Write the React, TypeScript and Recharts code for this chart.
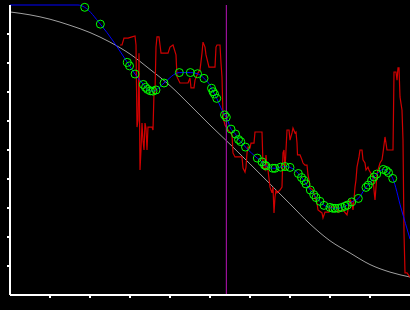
import { ComposedChart, Line, Scatter, XAxis, YAxis, ReferenceLine } from "recharts";

// smooth reference curve (grey)
const refX = [0, 5, 10, 15, 20, 25, 30, 35, 40, 45, 50, 55, 60, 65, 70, 75, 80, 85, 90, 95, 100];
const refY = [9.76, 9.66, 9.51, 9.3, 9.05, 8.72, 8.31, 7.78, 7.22, 6.55, 5.86, 5.2, 4.52, 3.83, 3.14, 2.45, 1.87, 1.45, 1.05, 0.79, 0.62];

// raw noisy signal (red), [x, y]
const raw: [number, number][] = [
  [27.5, 8.62], [28, 8.62], [28.5, 8.86], [29.5, 8.86], [30.5, 8.9], [31.25, 8.93], [31.5, 8.62],
  [31.75, 5.79], [32, 6.03], [32.25, 8.34], [32.5, 4.31], [32.75, 5.0], [33, 5.93], [33.25, 5.34],
  [33.5, 5.0], [33.75, 5.93], [34, 5.76], [34.25, 5.0], [34.5, 5.79], [35.5, 5.79], [35.75, 5.69],
  [36, 6.97], [36.25, 7.0], [36.5, 8.55], [36.75, 8.9], [37.25, 8.9], [37.5, 8.62], [37.75, 8.34],
  [39.5, 8.34], [40, 8.55], [40.75, 8.62], [41.5, 8.28], [41.75, 7.52], [42.5, 7.31], [44.5, 7.31],
  [45, 7.48], [45.25, 7.14], [46, 7.14], [46.25, 7.41], [47, 7.66], [47.5, 7.76], [48, 8.34],
  [48.25, 8.72], [48.75, 8.55], [49, 8.28], [49.75, 7.86], [51.25, 7.86], [51.5, 8.55], [51.75, 8.62],
  [52.5, 8.62], [52.75, 8.0], [53, 7.52], [53.25, 6.14], [53.75, 5.86], [54.5, 5.69], [55, 5.62],
  [55.5, 5.52], [55.75, 4.9], [56.25, 4.76], [58, 4.76], [58.25, 4.38], [58.75, 4.24], [59, 4.41],
  [59.25, 4.9], [59.5, 5.1], [60, 5.07], [60.25, 5.24], [61, 5.24], [61.25, 5.62], [63, 5.62],
  [63.125, 5.07], [63.25, 4.41], [63.75, 4.31], [64, 4.83], [64.25, 4.41], [64.5, 4.31], [65, 3.72],
  [65.5, 3.52], [65.75, 3.72], [66, 2.83], [66.25, 3.38], [66.5, 3.62], [66.75, 3.52], [67.5, 3.62],
  [68, 3.72], [68.25, 4.9], [68.5, 5.0], [68.75, 4.31], [69.25, 5.69], [69.75, 5.69], [70, 5.34],
  [70.5, 5.59], [70.75, 5.76], [71.25, 5.59], [71.5, 5.62], [71.75, 5.24], [71.875, 4.83], [72.5, 4.83],
  [73, 4.66], [73.25, 4.55], [73.75, 4.48], [74.25, 4.48], [74.5, 4.14], [74.75, 3.97], [75, 3.69],
  [75.75, 3.62], [76.25, 3.38], [76.75, 3.17], [77, 2.93], [78, 2.83], [78.25, 2.66], [78.75, 2.86],
  [79.75, 2.86], [80, 3.03], [81.75, 3.03], [82, 2.86], [83.25, 2.93], [84.25, 2.76], [85, 3.28],
  [85.5, 3.17], [85.75, 2.93], [86, 3.28], [86.25, 3.72], [86.5, 3.97], [86.75, 4.41], [87.25, 4.76],
  [87.5, 5.0], [88, 5.0], [88.25, 4.66], [88.75, 4.55], [89, 4.31], [89.5, 4.41], [89.75, 4.31],
  [90.75, 4.07], [91, 3.62], [91.25, 3.28], [91.5, 3.72], [91.75, 4.14], [92, 4.31], [92.5, 4.55],
  [93, 4.66], [93.25, 4.9], [93.75, 5.45], [94, 5.24], [94.25, 5.0], [95.75, 5.0], [95.875, 6.28],
  [96, 7.69], [96.5, 7.69], [96.75, 7.41], [97, 7.83], [97.25, 7.83], [97.5, 6.83], [98, 6.38],
  [98.25, 5.34], [98.375, 3.72], [98.5, 2.14], [98.75, 0.76], [99.25, 0.76], [100, 0.62],
];

// fitted samples (green circles), [x, y]
const samples: [number, number][] = [
  [18.68, 9.92], [22.58, 9.34], [29.33, 8.02], [29.88, 7.9], [31.25, 7.62], [33.33, 7.26],
  [33.88, 7.16], [34.38, 7.09], [35.08, 7.04], [35.75, 7.03], [36.5, 7.07], [38.5, 7.31],
  [42.33, 7.67], [45.08, 7.67], [46.88, 7.63], [48.5, 7.47], [50.38, 7.13], [50.75, 7.01],
  [51.13, 6.93], [51.68, 6.78], [53.63, 6.21], [54.08, 6.13], [55.25, 5.72], [56.38, 5.55],
  [57.13, 5.36], [57.68, 5.29], [58.88, 5.1], [61.83, 4.72], [63, 4.59], [63.63, 4.48],
  [64, 4.45], [65.68, 4.37], [66.25, 4.37], [67.68, 4.41], [68.75, 4.43], [70, 4.4],
  [72.08, 4.19], [72.88, 4.05], [73.5, 3.95], [74, 3.83], [75.08, 3.62], [75.93, 3.46],
  [76.5, 3.36], [77.5, 3.23], [78.5, 3.09], [80, 3.02], [80.68, 2.99], [81.25, 2.99],
  [82.08, 2.99], [82.93, 3.02], [83.75, 3.06], [84.33, 3.1], [85.43, 3.21], [87.08, 3.33],
  [89, 3.71], [89.58, 3.79], [90.38, 3.95], [91, 4.07], [91.68, 4.17], [93.33, 4.33],
  [94.08, 4.29], [94.63, 4.22], [95.68, 4.02],
];

// fit curve ends (blue) outside the sampled range
const fitHead: [number, number][] = [[0, 10], [17, 10]];
const fitTail: [number, number][] = [[97.75, 3.0], [100, 1.93]];

const marker = 54.1;
const xTicks = [10, 20, 30, 40, 50, 60, 70, 80, 90];
const yTicks = [1, 2, 3, 4, 5, 6, 7, 8, 9];

const toPts = (list: [number, number][]) => list.map(([x, y]) => ({ x, y }));
const refData = refX.map((x, i) => ({ x, y: refY[i] }));
const rawData = toPts(raw);
const sampleData = toPts(samples);
const fitData = toPts([...fitHead, ...samples, ...fitTail]);

const Ring = (props: any) => {
  const { cx, cy } = props;
  return <circle cx={cx} cy={cy} r={4} fill="none" stroke="#00ff00" strokeWidth={1} />;
};

export default function App() {
  return (
    <div
      style={{
        position: "fixed",
        top: 0,
        left: 0,
        width: 410,
        height: 310,
        background: "#000",
      }}
    >
      <ComposedChart
        width={410}
        height={310}
        margin={{ top: 5, right: 0, bottom: 5, left: 0 }}
      >
        <XAxis
          type="number"
          dataKey="x"
          domain={[0, 100]}
          ticks={xTicks}
          height={10}
          stroke="#fff"
          strokeWidth={2}
          tickSize={3}
          tick={() => <g />}
          allowDataOverflow
        />
        <YAxis
          type="number"
          dataKey="y"
          domain={[0, 10]}
          ticks={yTicks}
          width={10}
          stroke="#fff"
          strokeWidth={2}
          tickSize={3}
          tick={() => <g />}
        />
        <Line
          data={refData}
          dataKey="y"
          type="monotone"
          stroke="#a0a0a0"
          strokeWidth={1}
          dot={false}
          isAnimationActive={false}
        />
        <Line
          data={rawData}
          dataKey="y"
          type="linear"
          stroke="#d00000"
          strokeWidth={1.2}
          dot={false}
          isAnimationActive={false}
        />
        <Line
          data={fitData}
          dataKey="y"
          type="monotone"
          stroke="#0000ff"
          strokeWidth={1}
          dot={false}
          isAnimationActive={false}
        />
        <Scatter data={sampleData} dataKey="y" shape={Ring} isAnimationActive={false} />
        <ReferenceLine x={marker} stroke="#9a109a" strokeWidth={1.2} />
      </ComposedChart>
    </div>
  );
}
